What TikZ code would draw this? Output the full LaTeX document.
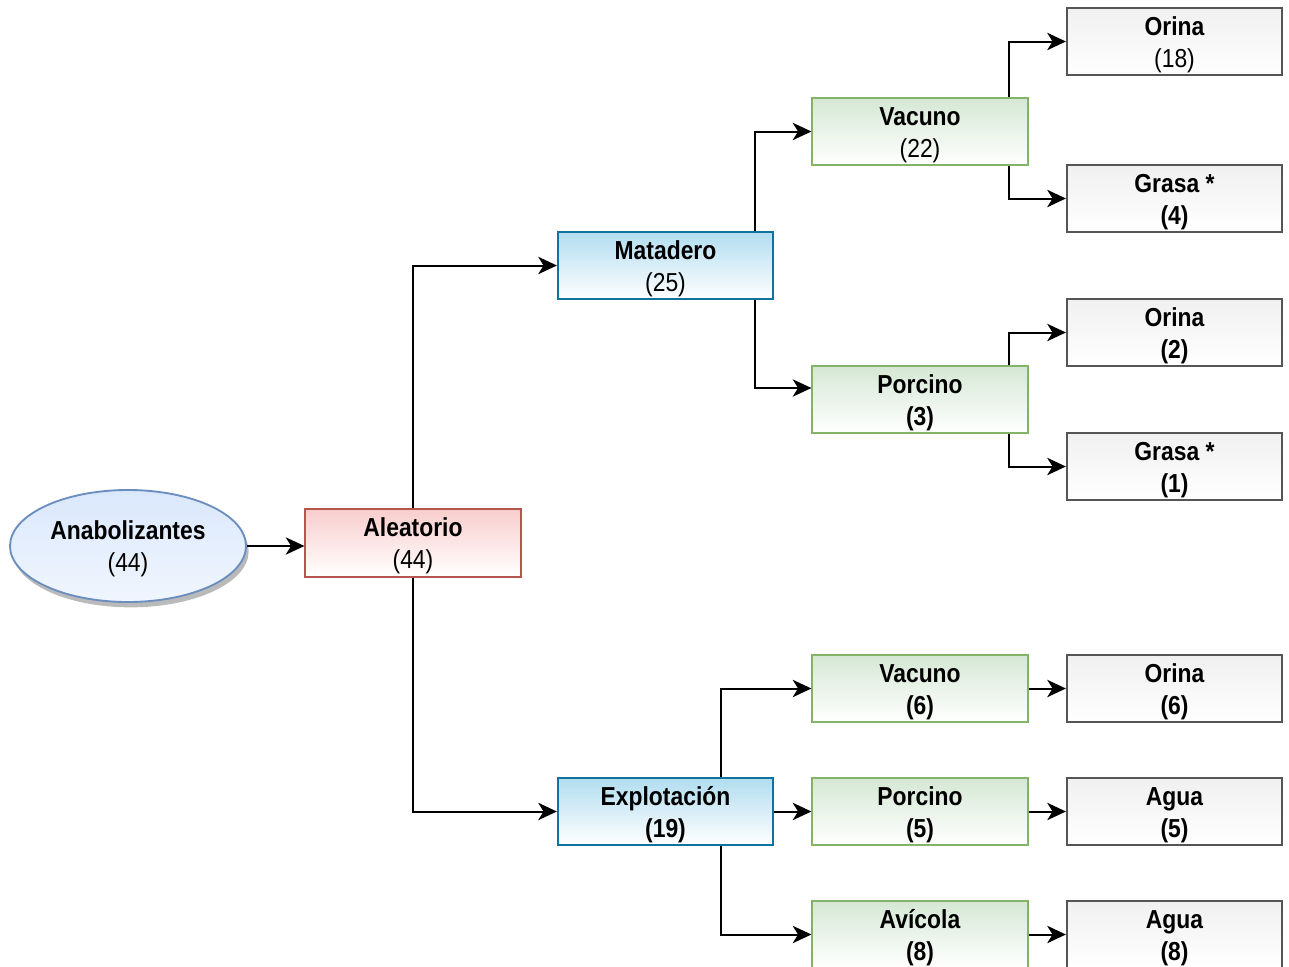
\documentclass[tikz,border=0pt]{standalone}
\usepackage{fontspec}
\setmainfont[FakeStretch=0.88]{Liberation Sans}
\usetikzlibrary{arrows.meta,calc,shadows,shapes.geometric}
\definecolor{redtop}{HTML}{F8CECC}
\definecolor{redline}{HTML}{B85450}
\definecolor{bluetop}{HTML}{B1DDF0}
\definecolor{blueline}{HTML}{10739E}
\definecolor{greentop}{HTML}{D5E8D4}
\definecolor{greenline}{HTML}{82B366}
\definecolor{graytop}{HTML}{F0F0F0}
\definecolor{grayline}{HTML}{555555}
\definecolor{elltop}{HTML}{DAE8FC}
\definecolor{ellline}{HTML}{6C8EBF}
\newcommand{\twoline}[2]{\raisebox{-2.5pt}[\height][\depth]{\begin{tabular}{@{}c@{}}#1\\#2\end{tabular}}}
\begin{document}
\begin{tikzpicture}[x=0.75pt,y=-0.75pt,
  box/.style={rectangle, minimum width=161.5pt, minimum height=50.5pt, inner sep=0pt,
    line width=1.4pt, align=center, font=\fontsize{19.5}{24}\selectfont\bfseries},
  redbox/.style={box, draw=redline, top color=redtop, bottom color=white},
  bluebox/.style={box, draw=blueline, top color=bluetop, bottom color=white},
  greenbox/.style={box, draw=greenline, top color=greentop, bottom color=white},
  graybox/.style={box, draw=grayline, top color=graytop, bottom color=white},
  ellbox/.style={ellipse, minimum width=177pt, minimum height=84pt, inner sep=0pt,
    line width=1.4pt, draw=ellline, top color=elltop, bottom color=elltop!40!white,
    align=center, font=\fontsize{19.5}{24}\selectfont\bfseries,
    drop shadow={shadow xshift=2pt, shadow yshift=-4pt, fill=black!45, opacity=0.6}},
  arr/.style={line width=1.5pt, -{Stealth[length=14pt, width=13pt, inset=4pt]}}
]
\useasboundingbox (0,0) rectangle (1289,967);

\node[ellbox] (ana) at (128,546) {\twoline{Anabolizantes}{\mdseries (44)}};
\node[redbox] (ale) at (413,543) {\twoline{Aleatorio}{\mdseries (44)}};
\node[bluebox] (mat) at (665.5,265.5) {\twoline{Matadero}{\mdseries (25)}};
\node[bluebox] (exp) at (665.5,811.5) {\twoline{Explotación}{(19)}};

\node[greenbox] (vac1) at (920,131.5) {\twoline{Vacuno}{\mdseries (22)}};
\node[greenbox] (por1) at (920,399.5) {\twoline{Porcino}{(3)}};
\node[greenbox] (vac2) at (920,688.5) {\twoline{Vacuno}{(6)}};
\node[greenbox] (por2) at (920,811.5) {\twoline{Porcino}{(5)}};
\node[greenbox] (avi) at (920,934.5) {\twoline{Avícola}{(8)}};

\node[graybox] (ori1) at (1174.5,41.5) {\twoline{Orina}{\mdseries (18)}};
\node[graybox] (gra1) at (1174.5,198.5) {\twoline{Grasa *}{(4)}};
\node[graybox] (ori2) at (1174.5,332.5) {\twoline{Orina}{(2)}};
\node[graybox] (gra2) at (1174.5,466.5) {\twoline{Grasa *}{(1)}};
\node[graybox] (ori3) at (1174.5,688.5) {\twoline{Orina}{(6)}};
\node[graybox] (agu1) at (1174.5,811.5) {\twoline{Agua}{(5)}};
\node[graybox] (agu2) at (1174.5,934.5) {\twoline{Agua}{(8)}};

\draw[arr] (ana.east) -- (ale.west |- ana.east);
\draw[arr] (ale.north) |- (mat.west);
\draw[arr] (ale.south) |- (exp.west);

\draw[arr] ($(mat.north east)+(-19,0)$) |- (vac1.west);
\draw[arr] ($(mat.south east)+(-19,0)$) |- ($(por1.west)+(0,-11.5)$);

\draw[arr] ($(vac1.north east)+(-20,0)$) |- (ori1.west);
\draw[arr] ($(vac1.south east)+(-20,0)$) |- (gra1.west);
\draw[arr] ($(por1.north east)+(-20,0)$) |- (ori2.west);
\draw[arr] ($(por1.south east)+(-20,0)$) |- (gra2.west);

\draw[arr] ($(exp.north east)+(-53,0)$) |- (vac2.west);
\draw[arr] (exp.east) -- (por2.west);
\draw[arr] ($(exp.south east)+(-53,0)$) |- (avi.west);

\draw[arr] (vac2.east) -- (ori3.west);
\draw[arr] (por2.east) -- (agu1.west);
\draw[arr] (avi.east) -- (agu2.west);
\end{tikzpicture}
\end{document}
